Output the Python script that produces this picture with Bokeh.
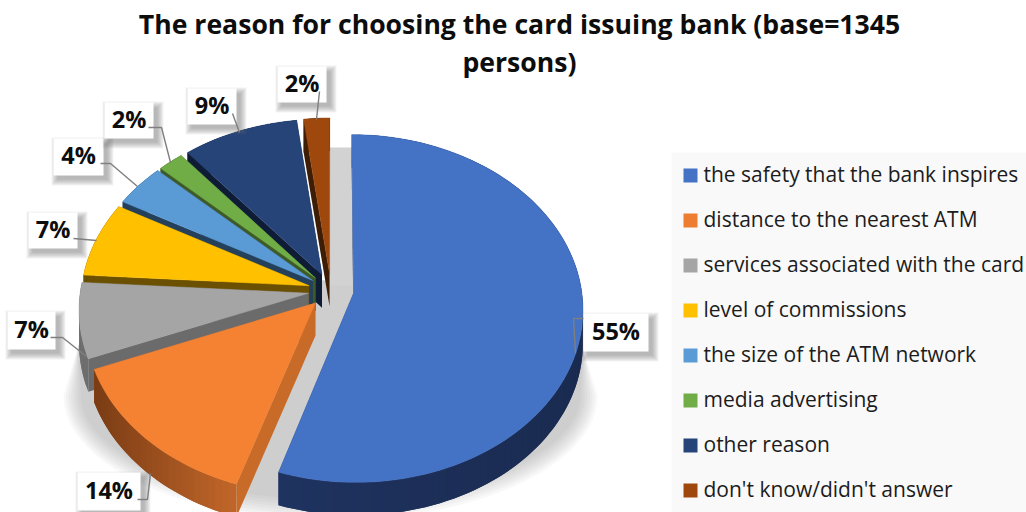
import numpy as np
from bokeh.core.properties import value
from bokeh.embed import file_html
from bokeh.models import Range1d
from bokeh.plotting import figure
from bokeh.resources import INLINE

# Survey results
categories = [
    "the safety that the bank inspires",
    "distance to the nearest ATM",
    "services associated with the card",
    "level of commissions",
    "the size of the ATM network",
    "media advertising",
    "other reason",
    "don't know/didn't answer",
]
shares = [55, 14, 7, 7, 4, 2, 9, 2]
title_lines = ["The reason for choosing the card issuing bank (base=1345", "persons)"]

# Slice styling: top face, radial wall, rim wall (left end, right end)
top_colors = ["#4472C4", "#F58233", "#A5A5A5", "#FFC000", "#5B9BD5", "#70AD47", "#264478", "#9E480E"]
legend_colors = ["#4472C4", "#ED7D31", "#A5A5A5", "#FFC000", "#5B9BD5", "#70AD47", "#264478", "#9E480E"]
cut_colors = ["#1B2D54", "#C86A28", "#6B6B6B", "#6A5000", "#24405A", "#3D5A28", "#0F1C36", "#3E1D06"]
rim_left = ["#1F3360", "#C2662A", "#6E6E6E", "#6A5000", "#24405A", "#3D5A28", "#0F1C36", "#3E1D06"]
rim_right = ["#1A2B50", "#7A3C14", "#6E6E6E", "#6A5000", "#24405A", "#3D5A28", "#0F1C36", "#3E1D06"]

# Page-space projection of the tilted pie
CX, CY = 330.5, 290.0
RX, RY = 228.0, 172.0
PERSP = 0.088
EXPLODE = 0.10
DEPTH = 33.0

# Callout boxes (left, top, right, bottom) and their leader paths
boxes = [
    (583, 313, 648, 351), (77, 472, 140, 510), (7, 311, 55, 349), (28, 212, 77, 248),
    (53, 138, 103, 175), (104, 102, 153, 138), (187, 88, 236, 124), (277, 66, 326, 102),
]
leaders = [
    [(575, 353), (573, 318), (583, 318)],
    [(150, 473), (147, 499), (137, 499)],
    [(86, 356), (62, 337), (50, 337)],
    [(96, 240), (73, 238)],
    [(137, 186), (110, 163), (100, 163)],
    [(170, 162), (161, 127), (148, 127)],
    [(239, 132), (232, 113)],
    [(316, 119), (319, 91)],
]


def project(x, y):
    d = 1.0 - PERSP * y
    return CX + RX * x / d, CY + RY * y / d


def dirs(theta):
    return np.sin(theta), -np.cos(theta)


def blend(c1, c2, t):
    a = [int(c1[i:i + 2], 16) for i in (1, 3, 5)]
    b = [int(c2[i:i + 2], 16) for i in (1, 3, 5)]
    return "#%02x%02x%02x" % tuple(int(round(a[k] + (b[k] - a[k]) * t)) for k in range(3))


p = figure(width=1026, height=512, x_range=Range1d(0, 1026), y_range=Range1d(512, 0),
           output_backend="svg", toolbar_location=None, min_border=0)
p.axis.visible = False
p.grid.visible = False
p.outline_line_color = None
p.background_fill_color = "white"
p.border_fill_color = "white"

# Soft cast shadow under the pie: tapered sides with a rounded, fading front
for i in range(8):
    t = np.linspace(0, np.pi, 70)
    ex = 330 + (267 - 2.5 * i) * np.cos(t)
    ey = 395 + (125 - 3.0 * i) * np.sin(t)
    sx = [560, 583, *ex, 78, 100]
    sy = [280, 350, *ey, 345, 280]
    p.patch(sx, sy, fill_color="#808080", fill_alpha=0.055, line_color=None)
p.patch([329, 353, 353, 329], [147, 147, 285, 285], fill_color="#d2d2d2", line_color=None)

# Slices, painted from the back of the pie to the front
total = float(sum(shares))
edges = np.cumsum([0.0] + shares) / total * 2 * np.pi
slices = []
for idx, share in enumerate(shares):
    a0, a1 = edges[idx], edges[idx + 1]
    mid = (a0 + a1) / 2
    ux, uy = dirs(mid)
    n = max(int(share * 2), 8)
    th = np.linspace(a0, a1, n + 1)
    rx, ry = dirs(th)
    ox, oy = EXPLODE * ux, EXPLODE * uy
    rim_x, rim_y = project(rx + ox, ry + oy)
    ax, ay = project(ox, oy)
    slices.append(dict(idx=idx, depth=uy, rim_x=rim_x, rim_y=rim_y, ax=ax, ay=ay))

for s in sorted(slices, key=lambda d: d["depth"]):
    i = s["idx"]
    xs, ys, cols = [], [], []
    rim_x, rim_y, ax, ay = s["rim_x"], s["rim_y"], s["ax"], s["ay"]
    for (x0, y0) in ((rim_x[0], rim_y[0]), (rim_x[-1], rim_y[-1])):
        xs.append([ax, x0, x0, ax])
        ys.append([ay, y0, y0 + DEPTH, ay + DEPTH])
        cols.append(cut_colors[i])
    m = len(rim_x) - 1
    for k in range(m):
        # order rim shading from the left side of the page to the right
        t = (0.5 * (rim_x[k] + rim_x[k + 1]) - rim_x.min()) / max(rim_x.max() - rim_x.min(), 1)
        # each band overlaps the next one so no seams show through
        e = min(k + 2, m)
        seg_x = rim_x[k:e + 1]
        seg_y = rim_y[k:e + 1]
        xs.append([*seg_x, *seg_x[::-1]])
        ys.append([*seg_y, *(seg_y[::-1] + DEPTH)])
        cols.append(blend(rim_right[i], rim_left[i], t) if i == 1 else blend(rim_left[i], rim_right[i], t))
    p.patches(xs, ys, fill_color=cols, line_color=None)
    p.patch([ax, *rim_x], [ay, *rim_y], fill_color=top_colors[i], line_color=top_colors[i], line_width=0.5)

# Legend panel
p.quad(left=[671], right=[1026], top=[152], bottom=[512], fill_color="#f9f9f9", line_color=None)
leg_y = [175 + 45 * i for i in range(len(categories))]
p.rect(x=[690] * len(categories), y=leg_y, width=14, height=14, fill_color=legend_colors, line_color=None)
p.text(x=[703] * len(categories), y=[v - 2 for v in leg_y], text=categories, text_font=value("Open Sans"),
       text_font_size="21px", text_align="left", text_baseline="middle", text_color="#1c1c1c")

# Callouts with drop shadows, leader lines and percentage labels
for box in boxes:
    l, t, r, b = box
    for k in range(7):
        g = 6 - k
        p.quad(left=[l + 4 - g], right=[r + 4 + g], top=[t + 5 - g], bottom=[b + 4 + g],
               fill_color="#6a6a6a", fill_alpha=0.09, line_color=None)
    p.quad(left=[l], right=[r], top=[t], bottom=[b], fill_color="white", line_color=None)
for path in leaders:
    p.line([q[0] for q in path], [q[1] for q in path], line_color="#7f7f7f", line_width=1.4)
labels = ["%d%%" % v for v in shares]
p.text(x=[(b[0] + b[2]) / 2 for b in boxes], y=[(b[1] + b[3]) / 2 - 2 for b in boxes], text=labels,
       text_font=value("Open Sans"), text_font_style="bold", text_font_size="23.5px",
       text_align="center", text_baseline="middle", text_color="#0d0d0d")

# Chart title
p.text(x=[519, 519], y=[23, 61], text=title_lines, text_font=value("Open Sans"),
       text_font_style="bold", text_font_size="26.6px", text_align="center",
       text_baseline="middle", text_color="#0d0d0d")

open("out.html", "w").write(file_html(p, INLINE))
